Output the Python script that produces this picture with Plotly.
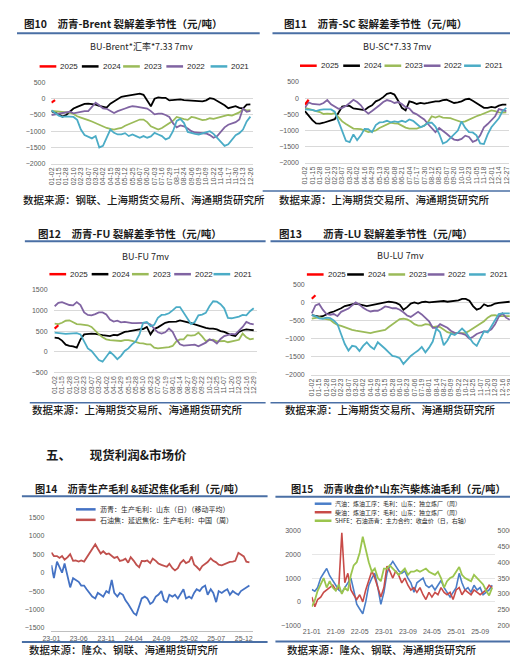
import plotly.graph_objects as go
import pandas as pd

W, H = 518, 658

# ---------------- seasonal category labels ----------------
T10 = ["01-02","01-15","01-28","02-10","02-23","03-07","03-20","04-02","04-15","04-28",
       "05-12","05-25","06-07","06-20","07-03","07-16","07-29","08-11","08-24","09-06",
       "09-19","10-09","10-22","11-04","11-17","11-30","12-13","12-26"]
M10 = ["01-08","01-21","02-03","02-16","03-01","03-13","03-26","04-08","04-21","05-06",
       "05-18","05-31","06-13","06-26","07-09","07-22","08-04","08-17","08-30","09-12",
       "09-27","10-15","10-28","11-10","11-23","12-06","12-19"]
T11 = ["01-02","01-15","01-28","02-10","02-23","03-07","03-20","04-02","04-16","04-29",
       "05-13","05-26","06-08","06-21","07-04","07-17","07-30","08-12","08-25","09-07",
       "09-20","10-10","10-23","11-05","11-18","12-01","12-14","12-27"]
M11 = ["01-08","01-21","02-03","02-16","03-01","03-13","03-26","04-09","04-22","05-07",
       "05-19","06-01","06-14","06-27","07-10","07-23","08-05","08-18","08-31","09-13",
       "09-27","10-16","10-29","11-11","11-24","12-07","12-20"]
T12 = ["01-02","01-15","01-28","02-10","02-23","03-07","03-20","04-02","04-16","04-29",
       "05-15","05-28","06-10","06-23","07-06","07-19","08-01","08-14","08-27","09-09",
       "09-22","10-12","10-25","11-07","11-20","12-03","12-16","12-29"]
M12 = ["01-08","01-21","02-03","02-16","03-01","03-13","03-26","04-09","04-22","05-08",
       "05-21","06-03","06-16","06-29","07-12","07-25","08-07","08-20","09-02","09-15",
       "09-29","10-18","11-01","11-13","11-26","12-09","12-22"]


def interleave(t, m):
    out = []
    for a, b in zip(t, m):
        out += [a, b]
    out.append(t[-1])
    return out


X10 = interleave(T10, M10)
X11 = interleave(T11, M11)
X12 = interleave(T12, M12)
X13 = X12
YEARS = ["2025", "2024", "2023", "2022", "2021"]
YEAR_COLORS = ["#FF0000", "#000000", "#9BBB59", "#8064A2", "#4BACC6"]

# ---------------- 图10 BU-Brent ----------------
P10_2025 = [-120, -40]
P10_2024 = [-380,-420,-480,-550,-500,-400,-300,-250,-200,-160,
            -150,-160,-180,-220,-250,-270,-150,-80,-20,60,
            80,100,140,150,160,120,-60,-230,0,40,
            30,30,-50,-40,-30,-20,-40,-50,-40,-60,
            -80,-80,-50,20,0,-60,-120,-200,-290,-250,
            -230,-280,-300,-180,-170]
P10_2023 = [-370,-380,-380,-400,-420,-430,-470,-540,-580,-630,
            -660,-700,-750,-800,-860,-900,-930,-950,-920,-900,
            -830,-780,-720,-680,-640,-640,-720,-850,-900,-950,
            -900,-830,-760,-680,-560,-600,-630,-650,-560,-580,
            -620,-660,-640,-600,-620,-580,-560,-530,-500,-520,
            -480,-420,-320,-360,-350]
P10_2022 = [-500,-480,-450,-430,-420,-400,-450,-420,-400,-380,
            -380,-250,-120,-200,-300,-310,-380,-440,-380,-330,
            -300,-260,-230,-240,-260,-260,-300,-380,-480,-460,
            -460,-500,-560,-750,-880,-820,-850,-920,-1000,-1040,
            -1050,-1050,-1070,-1120,-1200,-1150,-1030,-880,-800,-760,
            -720,-640,-300,-400,-370]
P10_2021 = [-350,-450,-520,-560,-540,-550,-560,-650,-950,-1120,
            -1160,-1220,-1150,-1500,-1450,-1200,-950,-1050,-1100,-1100,
            -1060,-1150,-1100,-1150,-1200,-1150,-1200,-1160,-1050,-1100,
            -1150,-1250,-1200,-1000,-680,-620,-750,-1020,-1060,-1080,
            -1100,-1070,-1040,-1000,-1080,-1200,-1350,-1450,-1400,-1250,
            -1120,-1060,-950,-700,-550]

# ---------------- 图11 BU-SC ----------------
P11_2025 = [-200, -50]
P11_2024 = [-400,-550,-680,-780,-790,-760,-730,-700,-650,-450,
            -260,-240,-240,-320,-340,-360,-370,-280,-220,-100,
            -50,30,130,160,110,-80,-300,-380,-100,-130,
            -180,-150,-170,-150,-120,-100,-100,-60,-50,-110,
            -150,-130,-100,-40,-20,-80,-150,-230,-300,-300,
            -270,-290,-230,-200,-200]
P11_2023 = [-300,-340,-380,-400,-430,-490,-480,-490,-460,-580,
            -720,-800,-880,-940,-950,-960,-1000,-1050,-1030,-1000,
            -920,-860,-800,-760,-780,-790,-850,-910,-940,-950,
            -940,-900,-850,-740,-560,-600,-560,-600,-610,-620,
            -660,-700,-740,-720,-660,-600,-560,-520,-480,-440,
            -380,-400,-440,-450,-440]
P11_2022 = [-300,-130,-180,-200,-200,-150,-60,-190,-250,-330,
            -300,-240,-150,-50,-120,-220,-380,-480,-400,-320,
            -220,-120,-60,-90,-150,-120,-180,-280,-320,-450,
            -500,-580,-660,-800,-940,-1050,-920,-1000,-1100,-1200,
            -1280,-1300,-1260,-1160,-1200,-1350,-1300,-1150,-900,-800,
            -680,-560,-340,-360,-400]
P11_2021 = [-350,-350,-360,-400,-360,-350,-350,-350,-420,-700,
            -1000,-1320,-1360,-1120,-1300,-1150,-950,-960,-1050,-830,
            -750,-740,-700,-750,-720,-740,-700,-740,-660,-700,
            -800,-900,-850,-760,-760,-880,-1100,-1400,-1350,-1230,
            -1130,-1000,-720,-920,-1050,-1060,-1150,-1400,-1420,-1120,
            -900,-750,-620,-400,-300]

# ---------------- 图12 BU-FU ----------------
P12_2025 = [560, 640]
P12_2024 = [340,330,270,170,140,130,100,300,420,430,
            440,430,410,400,390,380,410,400,440,480,
            490,510,530,540,550,600,420,550,590,650,
            700,720,720,730,760,740,720,690,660,630,
            600,580,560,560,540,500,480,440,400,380,
            480,520,540,530,520]
P12_2023 = [680,670,700,750,760,720,670,660,650,640,
            600,500,420,350,300,280,270,260,260,280,
            280,260,230,210,200,180,180,100,80,90,
            100,110,140,250,300,300,400,390,400,460,
            370,260,280,290,250,260,260,230,250,270,
            290,440,350,300,320]
P12_2022 = [1100,1180,1200,1160,1130,1120,1200,1130,950,890,
            880,910,950,950,900,780,730,750,710,720,
            700,690,690,700,700,700,660,560,470,440,
            470,560,480,300,180,150,160,160,170,130,
            180,220,300,270,200,310,380,410,430,420,
            500,600,720,680,660]
P12_2021 = [460,450,440,430,440,450,450,420,230,80,
            20,-80,-200,-240,-120,0,-80,-180,-100,20,
            80,180,250,420,700,720,620,650,820,890,
            900,930,1000,1080,1080,950,820,670,720,880,
            900,940,1100,1220,1210,1150,1050,820,810,830,
            850,890,880,980,1050]

# ---------------- 图13 BU-LU ----------------
P13_2025 = [100, 200]
P13_2024 = [-350,-370,-390,-380,-320,-280,-250,-210,-160,-100,
            -70,-50,-30,-50,-80,-100,-80,-60,-50,-40,
            0,20,10,-10,-60,-200,-130,-30,0,-30,
            10,20,0,10,40,50,40,20,30,40,
            60,100,100,50,-100,-200,-160,-50,-100,-80,
            -30,-10,0,-10,20]
P13_2023 = [-450,-420,-410,-440,-450,-480,-560,-620,-650,-690,
            -720,-760,-780,-800,-820,-830,-850,-820,-800,-800,
            -760,-680,-600,-520,-460,-450,-470,-520,-600,-640,
            -640,-600,-610,-680,-660,-680,-750,-820,-850,-850,
            -850,-830,-840,-780,-720,-660,-600,-520,-420,-360,
            -350,-380,-380,-380,-380]
P13_2022 = [-300,-80,-40,-200,-320,-340,-320,-380,-260,-220,
            -170,-80,0,-60,-150,-210,-250,-230,-230,-180,
            -110,-130,-160,-160,-200,-270,-360,-400,-320,-260,
            -330,-430,-520,-700,-700,-600,-650,-700,-790,-840,
            -850,-860,-900,-1000,-950,-870,-830,-800,-800,-740,
            -600,-400,-300,-420,-480]
P13_2021 = [-350,-380,-440,-450,-420,-430,-500,-600,-880,-1150,
            -1330,-1200,-1220,-1340,-1200,-1100,-1220,-1290,-1100,-1180,
            -1280,-1380,-1480,-1500,-1540,-1700,-1580,-1480,-1400,-1330,
            -1230,-1380,-1250,-1080,-720,-820,-1180,-1050,-860,-900,
            -820,-720,-820,-980,-1120,-1200,-1000,-800,-830,-650,
            -480,-320,-300,-300,-300]

# ---------------- 图14 production margins (semi-monthly) ----------------
D14 = pd.date_range("2023-01-01", periods=73, freq="SMS")
BITUMEN_MARGIN = [200,-150,300,150,0,250,-100,-400,-150,-200,
                  -250,-350,-350,-450,-550,-650,-700,-550,-600,-650,
                  -500,-550,-200,-550,-650,-550,-600,-750,-850,-950,
                  -1100,-1150,-900,-700,-650,-700,-850,-800,-650,-600,
                  -500,-750,-800,-600,-650,-600,-700,-600,-450,-700,
                  -650,-700,-550,-450,-500,-400,-350,-600,-450,-550,
                  -800,-500,-550,-500,-450,-600,-500,-550,-600,-500,
                  -450,-400,-350]
COKING_MARGIN = [550,450,450,400,450,350,420,500,320,330,
                 300,330,300,400,550,650,770,650,520,580,
                 500,520,450,400,430,320,340,380,270,420,
                 320,220,150,320,310,330,260,380,320,250,
                 210,180,160,240,120,60,120,260,340,260,
                 300,440,220,160,70,180,240,290,390,320,
                 280,220,200,230,260,290,300,320,540,500,
                 440,300,280]

# ---------------- 图15 price & refinery margins (monthly) ----------------
D15 = pd.date_range("2021-01-01", periods=61, freq="MS")
GASOLINE_MARGIN = [520,450,600,1000,1200,1400,1100,900,700,500,
                   400,600,800,1000,500,-100,-300,-500,0,700,
                   1000,1200,600,-100,400,1200,1500,1700,1500,1300,
                   1200,1300,1000,800,400,800,900,1000,700,600,
                   700,500,700,900,600,400,200,400,600,1200,
                   800,500,600,400,700,500,600,300,400,500,
                   700]
DIESEL_MARGIN = [200,-200,100,200,400,500,600,700,500,600,
                 2900,800,1200,500,300,100,300,0,500,900,
                 1300,1000,600,200,600,1500,1300,1000,1300,1100,
                 800,1000,700,500,600,400,600,300,100,400,
                 200,400,300,600,400,300,400,100,500,600,
                 300,500,400,300,500,400,300,400,500,700,
                 600]
SHFE_BITUMEN = [2600,2800,3100,3300,3500,3200,3400,3200,3100,3300,
                3000,3200,3100,3600,3900,4000,4300,4800,4400,4000,
                3700,3800,3500,3400,3800,3800,3900,3800,3700,3600,
                3700,3800,3600,3700,3700,3750,3700,3750,3800,3700,
                3650,3600,3700,3500,3200,3400,3500,3550,3700,3850,
                3600,3500,3450,3400,3600,3500,3400,3300,3100,2950,
                3200]

# ---------------- figure ----------------
fig = go.Figure()
TICKFONT = dict(family="Liberation Sans, Arial", size=7, color="#595959")
CJK = "Noto Sans CJK SC"


def px_x(x):
    return x / W


def px_y(y):
    return 1 - y / H


seasonal = [
    ("x", "y", X10, [P10_2025, P10_2024, P10_2023, P10_2022, P10_2021]),
    ("x2", "y2", X11, [P11_2025, P11_2024, P11_2023, P11_2022, P11_2021]),
    ("x3", "y3", X12, [P12_2025, P12_2024, P12_2023, P12_2022, P12_2021]),
    ("x4", "y4", X13, [P13_2025, P13_2024, P13_2023, P13_2022, P13_2021]),
]
for xa, ya, X, series in seasonal:
    for i in [1, 2, 3, 4, 0]:
        vals = series[i]
        fig.add_trace(go.Scatter(
            x=X[:len(vals)], y=vals, mode="lines", name=YEARS[i],
            line=dict(color=YEAR_COLORS[i], width=1.8 if i else 2.2),
            xaxis=xa, yaxis=ya, showlegend=False, hoverinfo="skip"))

fig.add_trace(go.Scatter(x=D14, y=BITUMEN_MARGIN, mode="lines", line=dict(color="#4472C4", width=1.8),
                         xaxis="x5", yaxis="y5", showlegend=False))
fig.add_trace(go.Scatter(x=D14, y=COKING_MARGIN, mode="lines", line=dict(color="#C0504D", width=1.8),
                         xaxis="x5", yaxis="y5", showlegend=False))
fig.add_trace(go.Scatter(x=D15, y=GASOLINE_MARGIN, mode="lines", line=dict(color="#4A7EC8", width=1.6),
                         xaxis="x6", yaxis="y6", showlegend=False))
fig.add_trace(go.Scatter(x=D15, y=DIESEL_MARGIN, mode="lines", line=dict(color="#C84B48", width=1.6),
                         xaxis="x6", yaxis="y6", showlegend=False))
fig.add_trace(go.Scatter(x=D15, y=SHFE_BITUMEN, mode="lines", line=dict(color="#9BC54E", width=1.8),
                         xaxis="x6", yaxis="y7", showlegend=False))


def cat_x(domain, X, T, rng, anchor):
    return dict(type="category", categoryorder="array", categoryarray=X, tickmode="array",
                tickvals=T, ticktext=T, tickangle=-90, tickfont=TICKFONT, showgrid=False,
                showline=True, linecolor="#D9D9D9", zeroline=False, ticks="",
                domain=domain, range=rng, anchor=anchor, fixedrange=True)


def val_y(domain, rng, anchor, grid=True):
    return dict(range=rng, dtick=500, tickfont=TICKFONT, showgrid=grid, gridcolor="#D9D9D9",
                zeroline=False, showline=False, ticks="", ticklabelstandoff=5,
                domain=domain, anchor=anchor, fixedrange=True)


layout = dict(
    width=W, height=H, margin=dict(l=0, r=0, t=0, b=0),
    paper_bgcolor="white", plot_bgcolor="white", showlegend=False,
    xaxis=cat_x([px_x(35), px_x(240.5)], X10, T10, [0, 54.8], "y"),
    yaxis=val_y([px_y(153.3), px_y(71.3)], [-2000, 500], "x"),
    xaxis2=cat_x([px_x(293), px_x(501)], X11, T11, [0, 54.8], "y2"),
    yaxis2=val_y([px_y(152.5), px_y(70.7)], [-2000, 500], "x2"),
    xaxis3=cat_x([px_x(37.2), px_x(243.9)], X12, T12, [-0.3, 54.8], "y3"),
    yaxis3=val_y([px_y(364.3), px_y(280.7)], [-500, 1500], "x3"),
    xaxis4=cat_x([px_x(298.9), px_x(504.4)], X13, T12, [-0.3, 54.8], "y4"),
    yaxis4=val_y([px_y(366.7), px_y(275.3)], [-2000, 500], "x4"),
    xaxis5=dict(type="date", range=["2023-01-01", "2026-01-20"], tick0="2023-01-01", dtick="M5",
                tickformat="%y-%m", tickfont=TICKFONT, showgrid=False, showline=True,
                linecolor="#BFBFBF", ticks="", domain=[px_x(35), px_x(240)], anchor="y5",
                fixedrange=True),
    yaxis5=dict(range=[-1590, 1600], tickvals=[-1500, -1000, -500, 0, 500, 1000, 1500],
                tickfont=TICKFONT, showgrid=False, zeroline=False, showline=False, ticks="",
                ticklabelstandoff=6, domain=[px_y(625.9), px_y(507.1)], anchor="x5",
                fixedrange=True),
    xaxis6=dict(type="date", range=["2021-01-01", "2026-01-25"], tick0="2021-01-01", dtick="M8",
                tickformat="%y-%m", tickfont=TICKFONT, showgrid=False, showline=False,
                ticks="", domain=[px_x(300), px_x(486)], anchor="y6", fixedrange=True),
    yaxis6=dict(range=[-1000, 3000], dtick=1000, tickfont=TICKFONT, showgrid=True,
                gridcolor="#E6E6E6", zeroline=False, showline=False, ticks="",
                ticklabelstandoff=10, domain=[px_y(620.3), px_y(524)], anchor="x6",
                fixedrange=True),
    yaxis7=dict(range=[2000, 5000], dtick=500, tickfont=TICKFONT, showgrid=False,
                zeroline=False, showline=False, ticks="", overlaying="y6", side="right",
                anchor="x6", ticklabelstandoff=2, fixedrange=True),
)
fig.update_layout(**layout)

annotations = []
shapes = []


def text(x, y, s, size=10.5, weight=400, anchor="left", family=CJK, color="#1A1A1A"):
    annotations.append(dict(x=px_x(x), y=px_y(y), xref="paper", yref="paper", text=s,
                            showarrow=False, xanchor=anchor, yanchor="middle",
                            font=dict(family=family, size=size, color=color, weight=weight)))


def hline(x0, x1, y, color="#4A6FA5", width=2):
    shapes.append(dict(type="line", xref="paper", yref="paper", x0=px_x(x0), x1=px_x(x1),
                       y0=px_y(y), y1=px_y(y), line=dict(color=color, width=width)))


def legend_item(x, y, color, label, size=8, length=17, family="Liberation Sans, Arial"):
    shapes.append(dict(type="line", xref="paper", yref="paper", x0=px_x(x), x1=px_x(x + length),
                       y0=px_y(y), y1=px_y(y), line=dict(color=color, width=2.5)))
    text(x + length + 2, y, label, size=size, family=family, color="#262626")


# titles
text(5, 12, "图10\u3000沥青-Brent 裂解差季节性（元/吨）", size=10.5, weight=700)
text(270, 12, "图11\u3000沥青-SC 裂解差季节性（元/吨）", size=10.5, weight=700)
text(19, 224, "图12\u3000沥青-FU 裂解差季节性（元/吨）", size=10.5, weight=700)
text(265, 224, "图13\u3000\u3000沥青-LU 裂解差季节性（元/吨）", size=10.5, weight=700)
text(27, 447, "五、\u3000\u3000现货利润&市场价", size=12.5, weight=700)
text(16, 482, "图14\u3000沥青生产毛利 &延迟焦化毛利（元/吨）", size=10.2, weight=700)
text(277, 482, "图15\u3000沥青收盘价*山东汽柴炼油毛利（元/吨）", size=10.2, weight=700)

hline(0, 247, 21.5)
hline(260, 509, 21.5)
hline(250, 509, 181, width=1.5)
hline(8, 253, 231.7)
hline(258, 511, 231.7)
hline(13, 253, 395, width=1.5)
hline(258, 511, 395, width=1.5)
hline(5, 255, 489.5)
hline(263, 516, 490)
hline(5, 255, 636.7)
hline(263, 516, 636.3)

# sources
text(4, 189.3, "数据来源：钢联、上海期货交易所、海通期货研究所", size=10.5, weight=500)
text(265, 189.3, "数据来源：上海期货交易所、海通期货研究所", size=10.5, weight=500)
text(13, 401.7, "数据来源：上海期货交易所、海通期货研究所", size=10.5, weight=500)
text(271, 401.7, "数据来源：上海期货交易所、海通期货研究所", size=10.5, weight=500)
text(10, 644.5, "数据来源：隆众、钢联、海通期货研究所", size=10.5, weight=500)
text(273, 644.5, "数据来源：隆众、钢联、海通期货研究所", size=10.5, weight=500)

# chart subtitles
text(127, 35, "BU-Brent*汇率*7.33 7mv", size=9, anchor="center", color="#262626")
text(387, 35, "BU-SC*7.33 7mv", size=9, anchor="center", color="#262626")
text(131, 246.7, "BU-FU 7mv", size=9, anchor="center", color="#262626")
text(390, 246, "BU-LU 7mv", size=9, anchor="center", color="#262626")

# seasonal legends
for y0, xs in [(55, [23, 66, 108, 152, 197]), (54.3, [288, 332, 374, 414, 455]),
               (265, [33, 76, 117, 160, 200]), (265.3, [295, 336, 378, 418, 460])]:
    for xi, lab, col in zip(xs, YEARS, YEAR_COLORS):
        legend_item(xi, y0, col, lab)

# panel 14 / 15 legends
legend_item(60, 502.7, "#4472C4", "沥青：生产毛利：山东（日）（移动平均）", size=7, length=20, family=CJK)
legend_item(60, 513.3, "#C0504D", "石油焦：延迟焦化：生产毛利：中国（周）", size=7, length=20, family=CJK)
legend_item(303, 497.0, "#4A7EC8", "汽油：炼油工序：毛利：山东：独立炼厂（周）", size=6, family=CJK)
legend_item(303, 505.6, "#C84B48", "柴油：炼油工序：毛利：山东：独立炼厂（周）", size=6, family=CJK)
legend_item(303, 514.2, "#9BC54E", "SHFE：石油沥青：主力合约：收盘价（日，右轴）", size=6, family=CJK)

fig.update_layout(annotations=annotations, shapes=shapes)
fig.write_html("out.html")
